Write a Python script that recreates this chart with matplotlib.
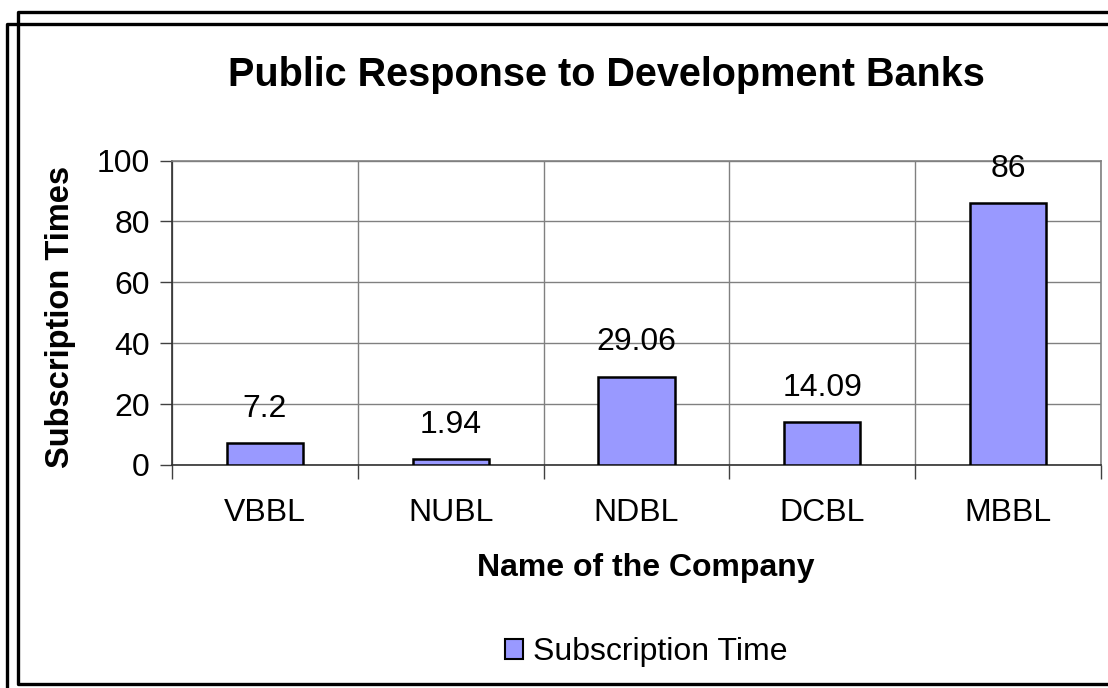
import matplotlib
matplotlib.use("Agg")
import matplotlib.pyplot as plt
from matplotlib.patches import Patch
from matplotlib.lines import Line2D
import numpy as np

categories = ["VBBL", "NUBL", "NDBL", "DCBL", "MBBL"]
values = [7.2, 1.94, 29.06, 14.09, 86]
value_labels = ["7.2", "1.94", "29.06", "14.09", "86"]
y_ticks = [0, 20, 40, 60, 80, 100]
title = "Public Response to Development Banks"
xlabel = "Name of the Company"
ylabel = "Subscription Times"
series_name = "Subscription Time"

plt.rcParams['font.family'] = ['Liberation Sans', 'DejaVu Sans']

W, H = 1108, 688
fig = plt.figure(figsize=(W / 100, H / 100), dpi=100)
fig.patch.set_facecolor("white")

L, R, T, B = 172, 1101, 160.5, 465
ax = fig.add_axes([L / W, 1 - B / H, (R - L) / W, (B - T) / H])

FS = 23
x = np.arange(len(categories))
bar_color = "#9999FF"
ax.bar(x, values, width=0.41, color=bar_color, edgecolor="black", linewidth=1.8, zorder=3)

for xi, v, lab in zip(x, values, value_labels):
    ax.annotate(lab, (xi, v), xytext=(0, 14), textcoords="offset points",
                ha="center", va="bottom", fontsize=FS)

ax.set_xlim(-0.5, len(categories) - 0.5)
ax.set_ylim(0, 100)
ax.set_yticks(y_ticks)
ax.set_yticklabels([str(t) for t in y_ticks], fontsize=FS)

ax.set_xticks(np.arange(len(categories) + 1) - 0.5)
ax.set_xticklabels([])
ax.set_xticks(x, minor=True)
ax.set_xticklabels(categories, minor=True, fontsize=FS)
ax.tick_params(axis="x", which="major", length=10, width=1, color="#404040", direction="out")
ax.tick_params(axis="x", which="minor", length=0, pad=24)
ax.tick_params(axis="y", which="major", length=9, width=1, color="#404040", pad=7, direction="out")

ax.grid(True, which="major", axis="both", color="#808080", linewidth=1, zorder=0)
ax.set_axisbelow(True)

for s in ["top", "right"]:
    ax.spines[s].set_color("#808080")
    ax.spines[s].set_linewidth(1.2)
for s in ["left", "bottom"]:
    ax.spines[s].set_color("#303030")
    ax.spines[s].set_linewidth(1.2)

ax.set_ylabel(ylabel, fontsize=FS + 0.5, fontweight="bold")
ax.yaxis.set_label_coords((60 - L) / (R - L), 0.485)
ax.set_xlabel(xlabel, fontsize=FS, fontweight="bold")
ax.xaxis.set_label_coords(0.51, (B - 568) / (B - T))
ax.xaxis.label.set_va("center")
ax.yaxis.label.set_va("center")

fig.text(606 / W, 1 - 75 / H, title, fontsize=28.5, fontweight="bold",
         ha="center", va="center")

handle = Patch(facecolor=bar_color, edgecolor="black", linewidth=1.5)
fig.legend([handle], [series_name], loc="center", bbox_to_anchor=(646 / W, 1 - 652 / H),
           frameon=False, fontsize=FS, handlelength=0.58, handleheight=0.58,
           handletextpad=0.3, borderpad=0)

# outer frames (drawn as open lines)
def fline(xs, ys):
    fig.add_artist(Line2D([v / W for v in xs], [1 - v / H for v in ys],
                          transform=fig.transFigure, color="black", linewidth=2.4,
                          solid_capstyle="projecting", clip_on=False))

fline([1200, 18, 18, 1200], [12, 12, 684, 684])
fline([1200, 7, 7], [24, 24, 800])

fig.savefig("out.png", dpi=100, facecolor="white")
